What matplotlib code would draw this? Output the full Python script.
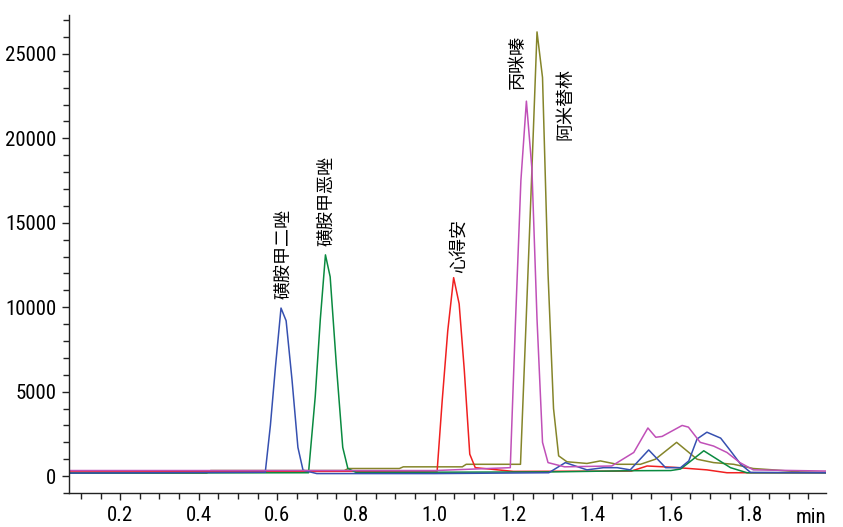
import matplotlib
matplotlib.use("Agg")
import matplotlib.pyplot as plt
from matplotlib import font_manager
from matplotlib.ticker import MultipleLocator

# ---- data (time in min, intensity in counts) ----
blue_t = [0.07, 0.30, 0.569, 0.582, 0.595, 0.609, 0.622, 0.637, 0.652, 0.665, 0.70, 1.0, 1.29, 1.332,
          1.387, 1.429, 1.464, 1.497, 1.544, 1.587, 1.625, 1.646, 1.667, 1.692, 1.727, 1.752, 1.778,
          1.803, 1.995]
blue_v = [180, 200, 230, 3000, 6500, 9950, 9200, 5700, 1700, 350, 150, 150, 200, 800,
          370, 500, 500, 370, 1550, 500, 500, 900, 2200, 2600, 2250, 1500, 700,
          220, 200]

green_t = [0.07, 0.679, 0.696, 0.709, 0.722, 0.734, 0.750, 0.766, 0.779, 0.80, 1.30, 1.50, 1.60,
           1.625, 1.646, 1.684, 1.718, 1.752, 1.794, 1.995]
green_v = [180, 200, 4700, 9300, 13100, 11800, 6500, 1700, 450, 220, 250, 320, 330,
           420, 800, 1500, 1000, 500, 200, 200]

red_t = [0.07, 0.42, 1.006, 1.019, 1.033, 1.048, 1.062, 1.075, 1.089, 1.103, 1.20, 1.50, 1.54,
         1.608, 1.692, 1.743, 1.995]
red_v = [250, 260, 300, 4500, 8600, 11750, 10200, 6300, 1300, 500, 280, 300, 600,
         520, 370, 200, 200]

magenta_t = [0.07, 1.0, 1.192, 1.205, 1.219, 1.233, 1.247, 1.260, 1.274, 1.288, 1.33, 1.45, 1.506,
             1.542, 1.562, 1.578, 1.629, 1.645, 1.675, 1.709, 1.743, 1.776, 1.810, 1.995]
magenta_v = [330, 330, 500, 9000, 17500, 22200, 18200, 9300, 2000, 800, 550, 600, 1400,
             2850, 2300, 2350, 3000, 2900, 2000, 1780, 1400, 800, 370, 300]

olive_t = [0.07, 0.42, 0.43, 0.77, 0.78, 0.91, 0.92, 1.07, 1.08, 1.218, 1.232, 1.246, 1.260, 1.274,
           1.288, 1.302, 1.315, 1.336, 1.387, 1.421, 1.464, 1.523, 1.561, 1.615, 1.667, 1.709,
           1.760, 1.810, 1.861, 1.929, 1.995]
olive_v = [180, 180, 330, 330, 450, 450, 550, 550, 700, 700, 9000, 17500, 26300, 23600,
           12000, 4000, 1200, 850, 750, 900, 700, 700, 1000, 2000, 1000, 800,
           700, 450, 370, 250, 220]

colors = {"blue": "#3650b0", "green": "#0a8a40", "red": "#f02020",
          "magenta": "#c050b8", "olive": "#85852a"}

labels = ["磺胺甲二唑", "磺胺甲恶唑", "心得安", "丙咪嗪", "阿米替林"]
label_x = [0.615, 0.724, 1.060, 1.210, 1.332]
label_y = [10500, 13600, 12000, 22900, 19900]

x_ticks = [0.2, 0.4, 0.6, 0.8, 1.0, 1.2, 1.4, 1.6, 1.8]
y_ticks = [0, 5000, 10000, 15000, 20000, 25000]

# ---- fonts ----
available = {f.name for f in font_manager.fontManager.ttflist}
tick_font = "DejaVu Sans"
for cand in ["Roboto Condensed", "Archivo Narrow", "Liberation Sans Narrow", "Barlow Semi Condensed",
             "Asap Condensed"]:
    if cand in available:
        tick_font = cand
        break

fig = plt.figure(figsize=(8.43, 5.27), dpi=100)
ax = fig.add_axes([0.0819, 0.0645, 0.898, 0.907])

lw = 1.1
ax.plot(olive_t, olive_v, color=colors["olive"], lw=lw)
ax.plot(red_t, red_v, color=colors["red"], lw=lw)
ax.plot(green_t, green_v, color=colors["green"], lw=lw)
ax.plot(blue_t, blue_v, color=colors["blue"], lw=lw)
ax.plot(magenta_t, magenta_v, color=colors["magenta"], lw=lw)

ax.set_xlim(0.07, 1.995)
ax.set_ylim(-1000, 27300)

ax.spines["top"].set_visible(False)
ax.spines["right"].set_visible(False)
for s in ("left", "bottom"):
    ax.spines[s].set_linewidth(1.0)
    ax.spines[s].set_color("#222222")

ax.set_xticks(x_ticks)
ax.set_xticklabels([f"{v:.1f}" for v in x_ticks])
ax.set_yticks(y_ticks)
ax.set_yticklabels([str(v) for v in y_ticks])
ax.xaxis.set_minor_locator(MultipleLocator(0.05))
ax.yaxis.set_minor_locator(MultipleLocator(1000))
ax.tick_params(axis="both", which="major", direction="out", length=5, width=1.0,
               color="#222222", labelsize=15, pad=4)
ax.tick_params(axis="both", which="minor", direction="out", length=4, width=1.0, color="#222222")
for lab in ax.get_xticklabels() + ax.get_yticklabels():
    lab.set_fontfamily(tick_font)

ax.text(1.0, -0.052, "min", transform=ax.transAxes, ha="right", va="center",
        fontsize=15, fontfamily=tick_font)

for txt, x, y in zip(labels, label_x, label_y):
    ax.text(x, y, txt, rotation=90, ha="center", va="bottom", fontsize=13,
            family=["Noto Sans CJK SC", "DejaVu Sans"])

fig.savefig("out.png", dpi=100)
